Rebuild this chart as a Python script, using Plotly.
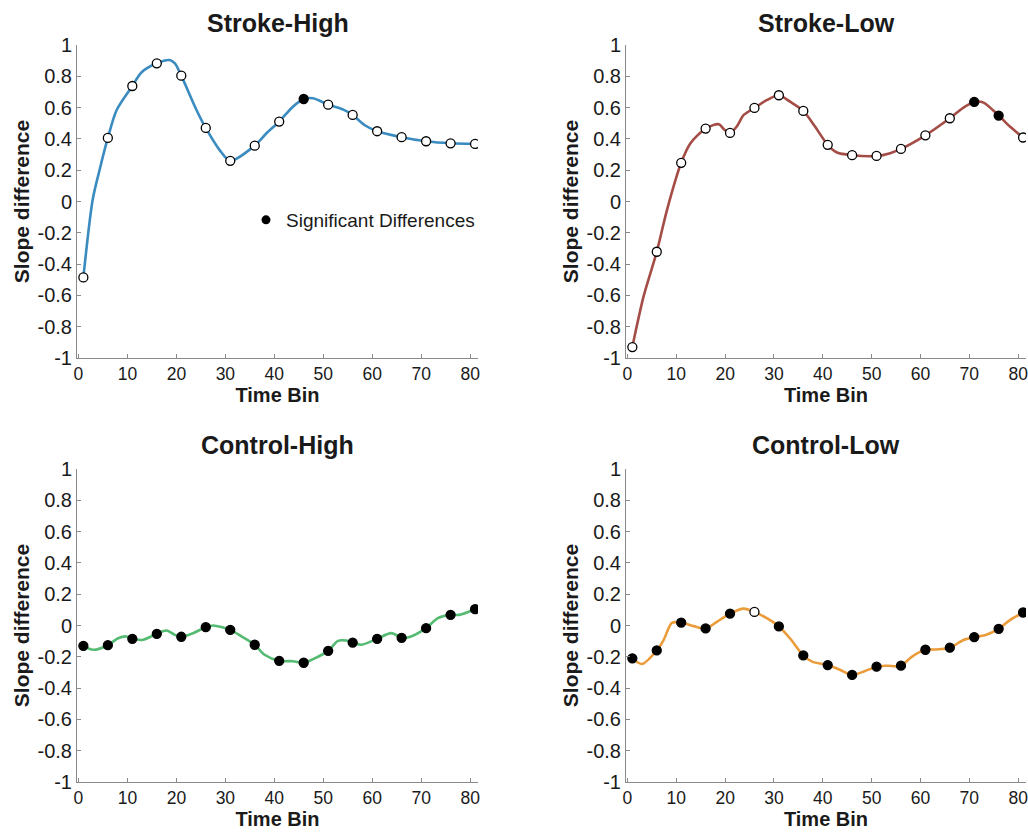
import plotly.graph_objects as go

# ---------------- data ----------------
bins = [1, 6, 11, 16, 21, 26, 31, 36, 41, 46, 51, 56, 61, 66, 71, 76, 81]

sh_vals = [-0.485, 0.406, 0.738, 0.883, 0.804, 0.470, 0.260, 0.357, 0.511, 0.655,
           0.619, 0.553, 0.449, 0.411, 0.385, 0.372, 0.368]
sh_sig = [0, 0, 0, 0, 0, 0, 0, 0, 0, 1, 0, 0, 0, 0, 0, 0, 0]
sh_line_x = [1, 2.9, 4.3, 6, 7.8, 11, 12.9, 16, 18.6, 19.7, 21, 24.1, 26, 28.8, 31, 36,
             38.4, 41, 43.8, 46, 47.9, 51, 54, 56, 58.4, 61, 66, 71, 76, 81]
sh_line_y = [-0.485, 0.011, 0.20, 0.406, 0.585, 0.738, 0.826, 0.883, 0.904, 0.883, 0.804,
             0.585, 0.470, 0.330, 0.260, 0.357, 0.436, 0.511, 0.606, 0.655, 0.660, 0.619,
             0.589, 0.553, 0.489, 0.449, 0.411, 0.385, 0.372, 0.368]

sl_vals = [-0.930, -0.321, 0.247, 0.466, 0.438, 0.598, 0.679, 0.579, 0.362, 0.296,
           0.291, 0.336, 0.423, 0.532, 0.636, 0.549, 0.409]
sl_sig = [0, 0, 0, 0, 0, 0, 0, 0, 0, 0, 0, 0, 0, 0, 1, 1, 0]
sl_line_x = [1, 1.6, 3.3, 6, 8.1, 11, 12.9, 16, 18.7, 19.8, 21, 22.4, 23.8, 26, 28.6, 31,
             33.3, 36, 38.4, 41, 42.9, 46, 51, 53.8, 56, 61, 66, 68.8, 71, 72.9, 76, 78.3, 81]
sl_line_y = [-0.930, -0.840, -0.606, -0.321, -0.053, 0.247, 0.372, 0.466, 0.494, 0.460,
             0.438, 0.480, 0.553, 0.598, 0.649, 0.679, 0.638, 0.579, 0.479, 0.362, 0.313,
             0.296, 0.291, 0.309, 0.336, 0.423, 0.532, 0.600, 0.636, 0.632, 0.549, 0.479, 0.409]

ch_vals = [-0.130, -0.126, -0.085, -0.053, -0.072, -0.011, -0.028, -0.123, -0.226, -0.238,
           -0.162, -0.109, -0.085, -0.079, -0.017, 0.068, 0.104]
ch_sig = [1] * 17
ch_line_x = [1, 3.0, 6, 8.1, 9.8, 11, 13.2, 16, 18, 19.7, 21, 23.4, 26, 27.5, 31, 33.3, 36,
             38, 41, 43.8, 46, 47.9, 51, 53, 54.7, 56, 57.8, 61, 63.9, 66, 67.6, 71, 73.4,
             76, 77.8, 81]
ch_line_y = [-0.130, -0.155, -0.126, -0.081, -0.070, -0.085, -0.091, -0.053, -0.032, -0.060,
             -0.072, -0.049, -0.011, 0.0, -0.028, -0.070, -0.123, -0.187, -0.226, -0.228,
             -0.238, -0.215, -0.162, -0.098, -0.096, -0.109, -0.123, -0.085, -0.049, -0.079,
             -0.074, -0.017, 0.047, 0.068, 0.068, 0.104]

cl_vals = [-0.210, -0.159, 0.019, -0.019, 0.076, 0.087, -0.006, -0.191, -0.253, -0.316,
           -0.263, -0.257, -0.155, -0.142, -0.074, -0.021, 0.083]
cl_sig = [1, 1, 1, 1, 1, 0, 1, 1, 1, 1, 1, 1, 1, 1, 1, 1, 1]
cl_line_x = [1, 3, 6, 7.4, 9.1, 11, 13.6, 16, 18.3, 21, 23.8, 26, 28.6, 31, 33.3, 36, 37.8,
             41, 43.6, 46, 48.3, 51, 53.1, 56, 58.2, 61, 63.3, 66, 68.8, 71, 73.2, 76, 78.3, 81]
cl_line_y = [-0.210, -0.246, -0.159, -0.093, 0.017, 0.019, -0.004, -0.019, 0.023, 0.076,
             0.108, 0.087, 0.045, -0.006, -0.083, -0.191, -0.231, -0.253, -0.284, -0.316,
             -0.295, -0.263, -0.257, -0.257, -0.200, -0.155, -0.153, -0.142, -0.093, -0.074,
             -0.062, -0.021, 0.034, 0.083]

titles = ["Stroke-High", "Stroke-Low", "Control-High", "Control-Low"]
colors = ["#3A8BBF", "#A44C46", "#55BB72", "#EB9C3A"]
ytick_vals = [1, 0.8, 0.6, 0.4, 0.2, 0, -0.2, -0.4, -0.6, -0.8, -1]
ytick_text = ["1", "0.8", "0.6", "0.4", "0.2", "0", "-0.2", "-0.4", "-0.6", "-0.8", "-1"]
xtick_vals = [0, 10, 20, 30, 40, 50, 60, 70, 80]

panels = [
    (sh_line_x, sh_line_y, sh_vals, sh_sig),
    (sl_line_x, sl_line_y, sl_vals, sl_sig),
    (ch_line_x, ch_line_y, ch_vals, ch_sig),
    (cl_line_x, cl_line_y, cl_vals, cl_sig),
]

# ---------------- layout geometry ----------------
W, H = 1028, 833
xdoms = [(77 / W, 478 / W), (626 / W, 1026 / W)]
ydoms = [((H - 358) / H, (H - 45) / H), ((H - 782) / H, (H - 469) / H)]
FONT = "Liberation Sans, Arial, sans-serif"
TXT = "#1a1a1a"

fig = go.Figure()
layout = dict(
    width=W, height=H, margin=dict(l=0, r=0, t=0, b=0, pad=0, autoexpand=False),
    paper_bgcolor="white", plot_bgcolor="white",
    font=dict(family=FONT, size=18, color=TXT),
    showlegend=True,
    legend=dict(x=246 / W, y=1 - 220 / H, xanchor="left", yanchor="middle",
                bgcolor="rgba(0,0,0,0)", font=dict(size=19, color=TXT),
                itemwidth=30, tracegroupgap=0),
)
annotations = []

for i, (lx, ly, mv, sig) in enumerate(panels):
    r, c = divmod(i, 2)
    n = i + 1
    xa = "x" if n == 1 else f"x{n}"
    ya = "y" if n == 1 else f"y{n}"
    fig.add_trace(go.Scatter(
        x=lx, y=ly, mode="lines", xaxis=xa, yaxis=ya,
        line=dict(color=colors[i], width=2.6, shape="spline", smoothing=0.8),
        showlegend=False, hoverinfo="skip"))
    fig.add_trace(go.Scatter(
        x=bins, y=mv, mode="markers", xaxis=xa, yaxis=ya,
        marker=dict(size=9, symbol="circle",
                    color=["black" if s else "white" for s in sig],
                    line=dict(color="black", width=1.3)),
        showlegend=False))
    axx = dict(domain=xdoms[c], range=[-0.3, 81.6], showgrid=False, zeroline=False,
               showline=True, linecolor="#8a8a8a", linewidth=1, automargin=False,
               ticks="inside", ticklen=4, tickcolor="#8a8a8a",
               ticklabeloverflow="allow",
               tickvals=xtick_vals, tickfont=dict(size=17.5, color=TXT),
               title=dict(text="<b>Time Bin</b>", font=dict(size=20, color=TXT),
                          standoff=0),
               anchor=ya, fixedrange=True)
    axy = dict(domain=ydoms[r], range=[-1, 1], showgrid=False, zeroline=False,
               showline=True, linecolor="#8a8a8a", linewidth=1, automargin=False,
               ticks="inside", ticklen=4, tickcolor="#8a8a8a",
               ticklabeloverflow="allow",
               tickvals=ytick_vals, ticktext=ytick_text,
               tickfont=dict(size=20, color=TXT),
               title=dict(text="<b>Slope difference</b>", font=dict(size=21, color=TXT),
                          standoff=2),
               anchor=xa, fixedrange=True)
    layout["xaxis" if n == 1 else f"xaxis{n}"] = axx
    layout["yaxis" if n == 1 else f"yaxis{n}"] = axy
    xc = (xdoms[c][0] + xdoms[c][1]) / 2
    ytop = [23, 445][r]
    annotations.append(dict(text=f"<b>{titles[i]}</b>", x=xc, y=1 - ytop / H,
                            xref="paper", yref="paper", showarrow=False,
                            xanchor="center", yanchor="middle",
                            font=dict(size=25, color=TXT, family=FONT)))

# legend entry for significant differences
fig.add_trace(go.Scatter(x=[None], y=[None], mode="markers", name="Significant Differences",
                         marker=dict(size=9, color="black", symbol="circle"),
                         showlegend=True))

layout["annotations"] = annotations
fig.update_layout(**layout)
fig.write_html("out.html",
               post_script="document.body.style.margin='0';document.body.style.overflow='hidden';")
